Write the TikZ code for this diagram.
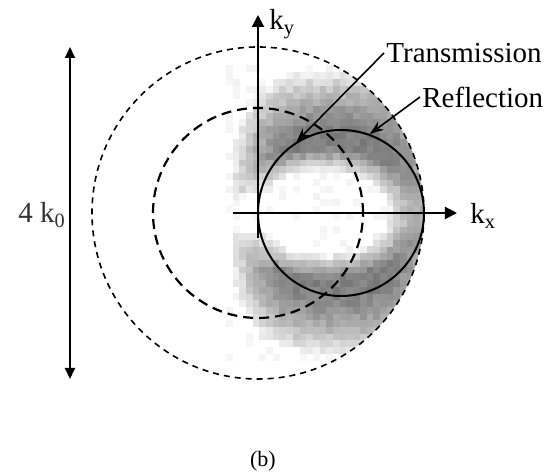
\documentclass[tikz,border=0pt]{standalone}
\usepackage{fontspec}
\setmainfont{Liberation Serif}
\usetikzlibrary{arrows.meta}
\tikzset{
  axis/.style={line width=1pt,-{Triangle[length=6pt,width=6pt]}},
  dimline/.style={line width=0.9pt,{Triangle[length=5.5pt,width=5pt]}-{Triangle[length=5.5pt,width=5pt]}},
  pointer/.style={line width=0.8pt,-{Stealth[length=7pt,width=5pt]}},
  lbl/.style={font=\fontsize{14.5}{17}\selectfont,inner sep=1pt},
  outerring/.style={line width=0.8pt,dash pattern=on 3pt off 2.5pt},
  innerring/.style={line width=1.1pt,dash pattern=on 5pt off 3pt}
}
\begin{document}
\begin{tikzpicture}[x=0.5pt,y=0.5pt]
\useasboundingbox (-258,-262) rectangle (289,213);

% measured intensity map (pixelated grey cells)
\begin{scope}
\clip (0,0) circle (166);
\pgfmathsetseed{7}
\foreach \i in {0,...,29}{
  \foreach \j in {-22,...,21}{
    \pgfmathsetmacro{\cx}{-32+6.7*\i+3.35}
    \pgfmathsetmacro{\cy}{6.7*\j+3.35}
    \pgfmathsetmacro{\fout}{min(1,max(0,1.2*(1-(abs(\cx-80)/110)^3-(abs(\cy)/145)^3)))}
    \pgfmathsetmacro{\fhole}{min(1,max(0,1.6*(sqrt(((\cx-65)/62)^2+(\cy/40)^2)-1)))}
    \pgfmathsetmacro{\fnotch}{min(1,max(0,2*(sqrt((\cx/35)^2+(\cy/16)^2)-1)))}
    \pgfmathsetmacro{\lev}{max(0,50*\fout*\fhole*\fnotch+10*(rnd-0.5))}
    \ifdim\lev pt>3pt
      \fill[black!\lev] (\cx-3.5,\cy-3.5) rectangle +(7,7);
    \fi
  }
}
\end{scope}

% rings
\draw[outerring] (0,0) circle (166);
\draw[innerring] (0,0) circle (105);
\node[circle,draw,line width=1pt,inner sep=0pt,minimum size=83pt] (refc) at (83,0) {};

% axes
\coordinate (o) at (0,0);
\coordinate (kxs) at (-25,0);
\coordinate (kxe) at (199,0);
\coordinate (kys) at (0,-25);
\coordinate (kye) at (0,198);
\draw[axis] (kxs) -- (kxe);
\draw[axis] (kys) -- (kye);
\node[lbl,anchor=base west] (kxlab) at (210,-11) {k\textsubscript{x}};
\node[lbl,anchor=base west] (kylab) at (9,183) {k\textsubscript{y}};

% diameter of the outer ring
\coordinate (dimtop) at (-188,166);
\coordinate (dimbot) at (-188,-166);
\draw[dimline] (dimtop) -- (dimbot);
\node[lbl,anchor=base west,text=black!80] (dimlab) at (-242,-10) {4 k\textsubscript{0}};

% labels
\node[lbl,anchor=west] (trans) at (126,160) {Transmission};
\node[lbl,anchor=west] (refl) at (162,116) {Reflection};
\draw[pointer] (trans.west) -- (refc.122);
\draw[pointer] (refl.west) -- (refc.70);

\node[font=\fontsize{11}{13}\selectfont] (cap) at (5,-248) {(b)};
\end{tikzpicture}
\end{document}
